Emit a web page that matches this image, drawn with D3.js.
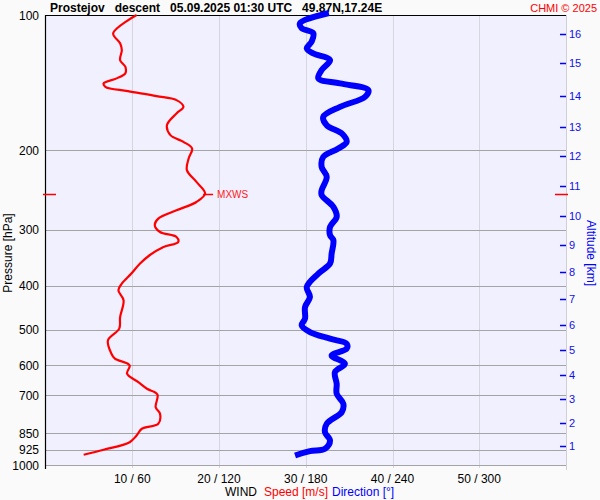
<!DOCTYPE html>
<html><head><meta charset="utf-8">
<script src="https://cdn.jsdelivr.net/npm/d3@7"></script>
<style>
html,body{margin:0;padding:0;background:#fafafa;}
svg{display:block;font-family:"Liberation Sans",Arial,sans-serif;}
</style></head>
<body><svg id="c" width="600" height="500"></svg>
<script>
// ---- data ----
const titleText = "Prostejov   descent   05.09.2025 01:30 UTC   49.87N,17.24E";
const creditText = "CHMI \u00a9 2025";
const pressureTicks = [100, 200, 300, 400, 500, 600, 700, 850, 925, 1000];
const speedTicks = [10, 20, 30, 40, 50];
const dirTicks = [60, 120, 180, 240, 300];
const gridSpeeds = [10, 20, 30, 40, 50];
const altitudeKm = [1, 2, 3, 4, 5, 6, 7, 8, 9, 10, 11, 12, 13, 14, 15, 16];
const altitudePressure = [908, 806, 715, 630, 554, 489, 427, 372, 325, 280, 240, 206, 177, 151, 128, 110];
const mxwsPressure = 250;
const mxwsSpeed = 18.4;

const speedPressure = [100,109.8,115.6,119.6,126,130.3,134.8,138.3,141.9,144.4,147.6,151.4,154.6,160,165.5,175.7,184.9,191.4,198,208.4,221.2,234.9,249.3,260.3,271.6,283.4,293.3,303.5,311.4,319.4,327.7,341.9,356.8,375.5,395.2,409,430.5,469.1,497.7,528.4,565.8,580.4,600.6,626.8,654.4,676.9,697,743.8,769.4,809.7,830.8,859.8,890,925.1,949.1];
const speedValues = [10.5,7.8,8.6,8.8,8.6,9.2,9.2,8.2,6.7,6.9,9.5,12.8,15.1,15.9,15.1,14.0,14.4,15.9,16.9,16.5,16.3,17.4,18.4,17.4,15.1,13.0,12.6,13.2,15.1,15.3,13.6,12.0,10.9,9.9,8.8,8.4,9.0,8.6,8.5,7.2,7.6,8.0,9.7,9.4,10.7,11.7,12.9,12.7,13.2,13.0,11.1,10.5,9.7,6.7,4.4];

const dirPressure = [99,104.3,107,109.8,114.6,118.6,121.7,126,132.5,138.3,141.9,146.8,152,160,168.4,175.7,183.3,191.4,198,206.7,217.6,229,245.1,251.4,267,281,295.8,308.6,316.7,338.9,356.8,375.5,402.2,423.3,445.7,472.9,489.4,506.5,524,537.7,551.6,570.9,595.6,621.6,659.8,694.5,730.9,762.8,809.7,845.3,882.3,920.4,931.8,952.6];
const dirValues = [196,176.0,177.2,185.2,184.1,180.7,185.2,196.8,191.0,188.7,203.7,223.3,221.0,203.7,192.1,194.5,204.9,208.3,202.5,192.1,191.0,194.5,191.0,191.0,199.1,201.4,196.8,196.8,199.1,197.9,196.8,188.7,180.7,182.9,179.5,179.5,177.2,182.9,196.8,208.3,208.3,197.9,207.1,200.2,201.4,201.4,206.0,204.9,194.5,193.3,196.8,193.3,182.9,172.6];

// ---- layout ----
const L = 45.5, R = 566, T = 15, B = 465;
const svg = d3.select("#c");
const y = d3.scaleLog().domain([100, 1000]).range([T, B]);
const xs = d3.scaleLinear().domain([0, 60]).range([L, R]);
const xd = d3.scaleLinear().domain([0, 360]).range([L, R]);

svg.append("rect").attr("x", L).attr("y", T).attr("width", R - L).attr("height", B - T).attr("fill", "#f0f0fe");

// vertical grid
svg.append("g").selectAll("line").data(gridSpeeds).join("line")
  .attr("x1", d => Math.round(xs(d)) + 0.5).attr("x2", d => Math.round(xs(d)) + 0.5)
  .attr("y1", T).attr("y2", B + 3).attr("stroke", "#d6d6de").attr("stroke-width", 1);

// horizontal grid
svg.append("g").selectAll("line").data(pressureTicks.filter(p => p > 100)).join("line")
  .attr("x1", L).attr("x2", R)
  .attr("y1", d => Math.round(y(d)) + 0.5).attr("y2", d => Math.round(y(d)) + 0.5)
  .attr("stroke", "#a4a4a4").attr("stroke-width", 1);

// right altitude axis line
svg.append("line").attr("x1", R + 0.5).attr("x2", R + 0.5).attr("y1", T).attr("y2", B + 5)
  .attr("stroke", "#cfcfd6");

// frame top & left
svg.append("line").attr("x1", L).attr("x2", R).attr("y1", T + 0.5).attr("y2", T + 0.5).attr("stroke", "#000");
svg.append("line").attr("x1", L - 0.5 + 0.5).attr("x2", L).attr("y1", T).attr("y2", B + 4).attr("stroke", "#000").attr("stroke-width", 1.2);

// left pressure labels
svg.append("g").selectAll("text").data(pressureTicks).join("text")
  .attr("x", 39).attr("y", d => y(d) + 4.5).attr("text-anchor", "end")
  .attr("font-size", 12).attr("fill", "#000").text(d => d);

// altitude ticks
const ga = svg.append("g");
ga.selectAll("line").data(altitudeKm).join("line")
  .attr("x1", 560).attr("x2", 566)
  .attr("y1", (d, i) => Math.round(y(altitudePressure[i])) + 0.5)
  .attr("y2", (d, i) => Math.round(y(altitudePressure[i])) + 0.5)
  .attr("stroke", "#0000ff").attr("stroke-width", 1.5);
ga.selectAll("text").data(altitudeKm).join("text")
  .attr("x", 569).attr("y", (d, i) => y(altitudePressure[i]) + 4)
  .attr("font-size", 11).attr("fill", "#1010ee").text(d => d);

// bottom tick labels
svg.append("g").selectAll("text").data(speedTicks).join("text")
  .attr("x", d => xs(d)).attr("y", 483).attr("text-anchor", "middle")
  .attr("font-size", 12).attr("fill", "#000")
  .text((d, i) => d + " / " + dirTicks[i]);

// bottom legend
const leg = svg.append("text").attr("y", 496).attr("font-size", 12);
leg.append("tspan").attr("x", 225).attr("fill", "#000").text("WIND");
leg.append("tspan").attr("x", 264).attr("fill", "#ff0000").text("Speed [m/s]");
leg.append("tspan").attr("x", 332).attr("fill", "#0000ff").text("Direction [\u00b0]");

// axis titles
svg.append("text").attr("transform", "translate(12," + 253 + ") rotate(-90)")
  .attr("text-anchor", "middle").attr("font-size", 12).attr("fill", "#000").text("Pressure [hPa]");
svg.append("text").attr("transform", "translate(587," + 253 + ") rotate(90)")
  .attr("text-anchor", "middle").attr("font-size", 12).attr("fill", "#0000ff").text("Altitude [km]");

// title
svg.append("text").attr("x", 50).attr("y", 12).attr("font-size", 12).attr("font-weight", "bold")
  .attr("fill", "#000").style("white-space", "pre").text(titleText);
svg.append("text").attr("x", 597).attr("y", 12).attr("font-size", 11).attr("text-anchor", "end")
  .attr("fill", "#ff0000").text(creditText);

// direction line
const dirData = dirPressure.map((p, i) => [xd(dirValues[i]), y(p)]);
svg.append("path").attr("d", d3.line().curve(d3.curveCatmullRom.alpha(0.5))(dirData))
  .attr("fill", "none").attr("stroke", "#0000ff").attr("stroke-width", 6).attr("stroke-linejoin", "round");

// speed line
const spData = speedPressure.map((p, i) => [xs(speedValues[i]), y(p)]);
svg.append("path").attr("d", d3.line().curve(d3.curveCatmullRom.alpha(0.5))(spData))
  .attr("fill", "none").attr("stroke", "#ff0000").attr("stroke-width", 2.2).attr("stroke-linejoin", "round");

// MXWS markers
const my = Math.round(y(mxwsPressure)) + 0.5;
svg.append("line").attr("x1", 43).attr("x2", 56).attr("y1", my).attr("y2", my).attr("stroke", "#ff0000").attr("stroke-width", 1.5);
svg.append("line").attr("x1", 555).attr("x2", 568).attr("y1", my).attr("y2", my).attr("stroke", "#ff0000").attr("stroke-width", 1.5);
svg.append("line").attr("x1", xs(mxwsSpeed) - 2).attr("x2", xs(mxwsSpeed) + 8).attr("y1", my).attr("y2", my).attr("stroke", "#ff0000").attr("stroke-width", 1.5);
svg.append("text").attr("x", xs(mxwsSpeed) + 12).attr("y", my + 3.5).attr("font-size", 10)
  .attr("fill", "#ff2020").text("MXWS");
</script></body></html>
